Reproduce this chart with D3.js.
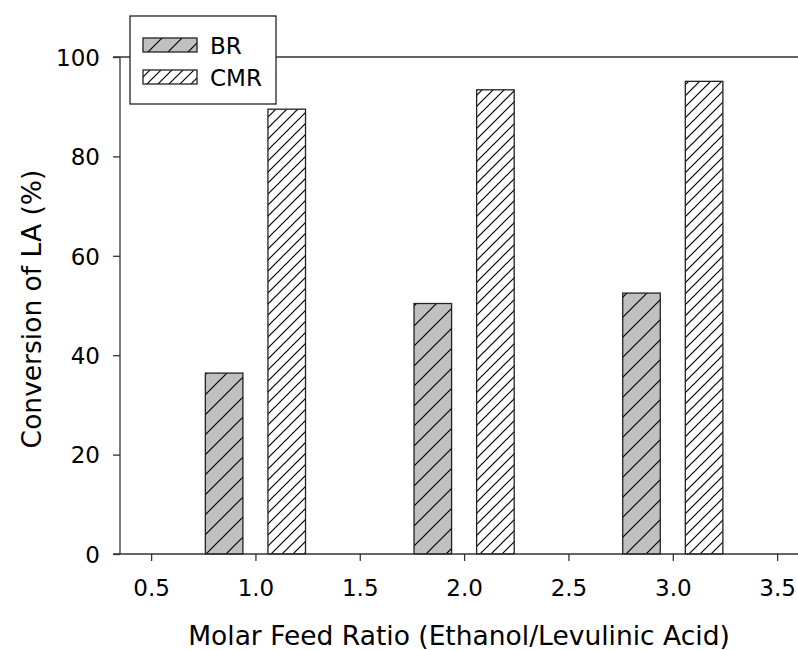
<!DOCTYPE html>
<html><head><meta charset="utf-8">
<script src="https://cdn.jsdelivr.net/npm/d3@7"></script>
<style>body{margin:0;background:#fff}svg{display:block}</style>
</head><body>
<svg id="c" width="798" height="650"></svg>
<script>
const ratios = [1.0, 2.0, 3.0];
const brValues = [36.4, 50.4, 52.5];
const cmrValues = [89.5, 93.4, 95.1];
const seriesNames = ["BR", "CMR"];
const xTicks = [0.5, 1.0, 1.5, 2.0, 2.5, 3.0, 3.5];
const yTicks = [0, 20, 40, 60, 80, 100];

(function () {
const svg = d3.select("#c");
const font = "DejaVu Sans, Verdana, sans-serif";
const pL = 120, pR = 798, pT = 57, pB = 554;
const x = d3.scaleLinear().domain([0.351, 3.6]).range([pL, pR]);
const y = d3.scaleLinear().domain([0, 100]).range([pB, pT]);

const defs = svg.append("defs");
function hatch(id, spacing, fill) {
  const p = defs.append("pattern").attr("id", id).attr("patternUnits", "userSpaceOnUse")
    .attr("width", spacing).attr("height", spacing);
  p.append("rect").attr("width", spacing).attr("height", spacing).attr("fill", fill);
  p.append("path").attr("d", `M0,${spacing} L${spacing},0 M${-spacing/2},${spacing/2} L${spacing/2},${-spacing/2} M${spacing/2},${spacing*1.5} L${spacing*1.5},${spacing/2}`)
    .attr("stroke", "#000").attr("stroke-width", 1.2);
}
hatch("hBR", 20, "#c0c0c0");
hatch("hCMR", 11, "#ffffff");

const barW = 0.18, off = 0.15;
const series = [
  {name: seriesNames[0], vals: brValues, dx: -off, fill: "url(#hBR)"},
  {name: seriesNames[1], vals: cmrValues, dx: off, fill: "url(#hCMR)"}
];
series.forEach(s => {
  svg.append("g").selectAll("rect").data(ratios).join("rect")
    .attr("x", (d) => x(d + s.dx - barW/2))
    .attr("width", (d) => x(d + s.dx + barW/2) - x(d + s.dx - barW/2))
    .attr("y", (d, i) => y(s.vals[i]))
    .attr("height", (d, i) => y(0) - y(s.vals[i]))
    .attr("fill", s.fill).attr("stroke", "#222").attr("stroke-width", 1.3);
});

svg.append("line").attr("x1", pL - 7).attr("x2", pR).attr("y1", y(100)).attr("y2", y(100))
  .attr("stroke", "#333").attr("stroke-width", 1.3);

const yAxis = svg.append("g").attr("transform", `translate(${pL},0)`)
  .call(d3.axisLeft(y).tickValues(yTicks).tickSize(7).tickPadding(13).tickFormat(d3.format("d")));
const xAxis = svg.append("g").attr("transform", `translate(0,${pB})`)
  .call(d3.axisBottom(x).tickValues(xTicks).tickSize(7).tickPadding(19).tickFormat(d3.format(".1f")));
[yAxis, xAxis].forEach(g => {
  g.select(".domain").attr("stroke", "#333").attr("stroke-width", 1.3);
  g.selectAll(".tick line").attr("stroke", "#333").attr("stroke-width", 1.3);
  g.selectAll("text").attr("font-family", font).attr("font-size", 23).attr("fill", "#000");
});
yAxis.select(".domain").attr("d", `M0,${pB}V${pT}`);
xAxis.select(".domain").attr("d", `M${pL - 7},0H${pR}`);
yAxis.selectAll(".tick text").attr("dy", "0.36em");

svg.append("text").attr("x", 459).attr("y", 645).attr("text-anchor", "middle")
  .attr("font-family", font).attr("font-size", 26.5).text("Molar Feed Ratio (Ethanol/Levulinic Acid)");
svg.append("text").attr("transform", "translate(41,309) rotate(-90)").attr("text-anchor", "middle")
  .attr("font-family", font).attr("font-size", 26.5).text("Conversion of LA (%)");

const lg = svg.append("g");
lg.append("rect").attr("x", 130).attr("y", 16).attr("width", 146).attr("height", 88)
  .attr("fill", "#fff").attr("stroke", "#222").attr("stroke-width", 1.3);
series.forEach((s, i) => {
  const yy = 38 + i * 32;
  lg.append("rect").attr("x", 143).attr("y", yy).attr("width", 54).attr("height", 14)
    .attr("fill", s.fill).attr("stroke", "#222").attr("stroke-width", 1.3);
  lg.append("text").attr("x", 210).attr("y", yy + 16).attr("font-family", font)
    .attr("font-size", 23).text(s.name);
});
})();
</script>
</body></html>
